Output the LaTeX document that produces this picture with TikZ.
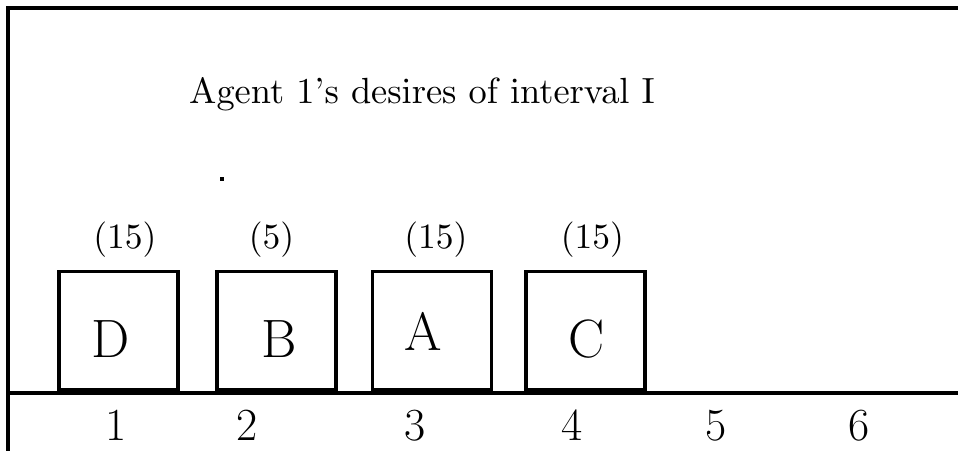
\documentclass[tikz,border=0pt]{standalone}
\DeclareFontFamily{OT1}{cmrten}{}
\DeclareFontShape{OT1}{cmrten}{m}{n}{<-> cmr10}{}
\newcommand{\tenfont}[1]{\fontencoding{OT1}\fontfamily{cmrten}\fontseries{m}\fontshape{n}\fontsize{#1}{#1}\selectfont}
\begin{document}
\begin{tikzpicture}[x=1pt,y=-1pt,
  frame/.style={line width=4pt},
  slot/.style={draw,line width=3.8pt,minimum width=119pt,minimum height=118pt,inner sep=0pt,outer sep=0pt,anchor=north west},
  letter/.style={anchor=base,inner sep=0pt,font=\fontsize{54}{58}\selectfont},
  weight/.style={anchor=base,inner sep=0pt,font=\tenfont{35.5}},
  num/.style={anchor=base,inner sep=0pt,font=\fontsize{46}{50}\selectfont},
  title/.style={anchor=base west,inner sep=0pt,font=\tenfont{36.4}}]
\useasboundingbox (0,0) rectangle (958,451);
% frame and axis
\coordinate (tl) at (8,7.5);
\coordinate (tr) at (958,7.5);
\coordinate (bl) at (8,451);
\coordinate (al) at (8,392.5);
\coordinate (ar) at (958,392.5);
\draw[frame] (tr) -- (tl) -- (bl);
\draw[frame] (al) -- (ar);
% title
\node[title] (ttl) at (189,103) {Agent 1's desires of interval I};
% dot and tick
\fill (220,177) rectangle (224,181);
\fill (71,387.5) rectangle (77,390);
% boxes
\node[slot] (bD) at (59,271.5) {};
\node[slot] (bB) at (217,271.5) {};
\node[slot] (bA) at (372.5,271.5) {};
\node[slot] (bC) at (526,271.5) {};
\node[letter] (lD) at (111,357) {D};
\node[letter] (lB) at (279,357) {B};
\node[letter] (lA) at (423,350) {A};
\node[letter] (lC) at (587,357) {C};
% weights
\node[weight] (wD) at (125,248) {(15)};
\node[weight] (wB) at (271.5,248) {(5)};
\node[weight] (wA) at (436,248) {(15)};
\node[weight] (wC) at (592.5,248) {(15)};
% axis numbers
\node[num] (n1) at (116,440) {1};
\node[num] (n2) at (247.5,440) {2};
\node[num] (n3) at (415,440) {3};
\node[num] (n4) at (572,440) {4};
\node[num] (n5) at (716,440) {5};
\node[num] (n6) at (859,440) {6};
\end{tikzpicture}
\end{document}
